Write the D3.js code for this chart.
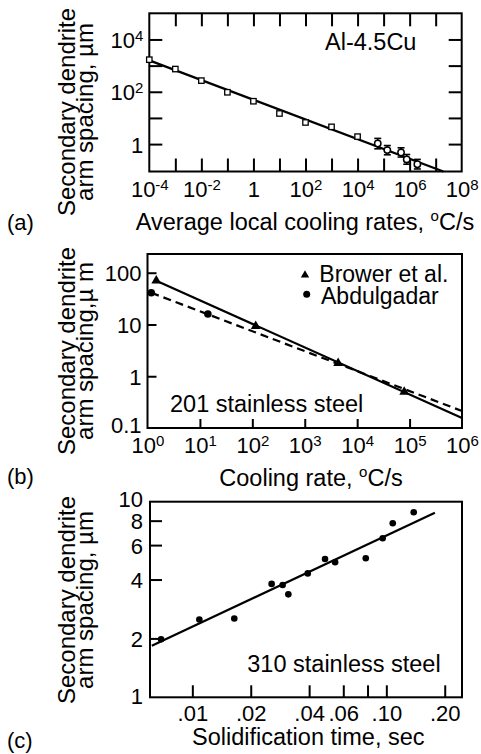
<!DOCTYPE html>
<html><head><meta charset="utf-8">
<script src="https://cdn.jsdelivr.net/npm/d3@7"></script>
<style>
html,body{margin:0;padding:0;background:#fff;}
svg{display:block;}
text{font-family:"Liberation Sans",Arial,Helvetica,sans-serif;fill:#000;}
</style></head><body>
<svg id="chart" width="481" height="754"></svg>
<script>
// ---------- Panel (a): Al-4.5Cu ----------
const aSquareRate = [1e-4, 1e-3, 1e-2, 1e-1, 1, 10, 100, 1e3, 1e4];
const aSquareSpacing = [1686, 739, 267, 95.7, 43.5, 14.8, 6.7, 4.56, 1.93];
const aCircleRate = [5.96e4, 1.39e5, 4.68e5, 7.74e5, 1.98e6];
const aCircleSpacing = [1.06, 0.59, 0.48, 0.26, 0.169];
const aCircleErrLow = [0.66, 0.39, 0.32, 0.17, 0.112];
const aCircleErrHigh = [1.65, 0.88, 0.72, 0.40, 0.26];
const aFitRate = [1e-4, 1.97e7];
const aFitSpacing = [1585, 0.0896];
const aXTicks = [1e-4, 1e-3, 1e-2, 1e-1, 1, 10, 100, 1e3, 1e4, 1e5, 1e6, 1e7, 1e8];
const aXTickLabels = [["10","-4"],["",""],["10","-2"],["",""],["1",""],["",""],["10","2"],["",""],["10","4"],["",""],["10","6"],["",""],["10","8"]];
const aYTicks = [1, 10, 100, 1e3, 1e4];
const aYTickLabels = [["1",""],["",""],["10","2"],["",""],["10","4"]];

// ---------- Panel (b): 201 stainless steel ----------
const bBrowerRate = [1.47, 116, 4335, 79000];
const bBrowerSpacing = [70, 9.3, 1.78, 0.50];
const bAbdulRate = [1.18, 14.2];
const bAbdulSpacing = [41, 15.9];
const bBrowerFitRate = [1.47, 1e6];
const bBrowerFitSpacing = [70, 0.156];
const bAbdulFitRate = [1.18, 1e6];
const bAbdulFitSpacing = [41, 0.213];
const bXTicks = [1, 10, 100, 1e3, 1e4, 1e5, 1e6];
const bXTickLabels = [["10","0"],["10","1"],["10","2"],["10","3"],["10","4"],["10","5"],["10","6"]];
const bYTicks = [0.1, 1, 10, 100];
const bYTickLabels = [["0.1",""],["1",""],["10",""],["100",""]];
const bLegend = ["Brower et al.", "Abdulgadar"];

// ---------- Panel (c): 310 stainless steel ----------
const cTime = [0.0069, 0.01087, 0.01645, 0.02563, 0.02921, 0.03125, 0.03936, 0.04831, 0.05445, 0.07834, 0.09578, 0.1079, 0.1384];
const cSpacing = [1.98, 2.50, 2.53, 3.80, 3.75, 3.36, 4.30, 5.09, 4.90, 5.14, 6.50, 7.76, 8.83];
const cFitTime = [0.00618, 0.178];
const cFitSpacing = [1.835, 8.78];
const cXTicks = [0.01, 0.02, 0.04, 0.06, 0.08, 0.10, 0.20];
const cXTickLabels = [[".01",""],[".02",""],[".04",""],[".06",""],["",""],[".10",""],[".20",""]];
const cYTicks = [1, 2, 4, 6, 8, 10];
const cYTickLabels = [["1",""],["2",""],["4",""],["6",""],["8",""],["10",""]];

const svg = d3.select("#chart");
const FONT = '"Liberation Sans",Arial,Helvetica,sans-serif';
const TICKFONT = 22, SUPFONT = 15, TITLEFONT = 23.5;

function writeLabel(sel, parts, supShift) {
  sel.text(null)
    .style("font-size", TICKFONT + "px").style("font-family", FONT).attr("fill", "#000");
  sel.append("tspan").style("font-size", TICKFONT + "px").text(parts[0]);
  if (parts[1]) sel.append("tspan").style("font-size", SUPFONT + "px").attr("dy", supShift).text(parts[1]);
}

function styleAxis(g) {
  g.attr("font-size", null).attr("font-family", null);
  g.select(".domain").remove();
  g.selectAll(".tick line").attr("stroke", "#000").attr("stroke-width", 2);
}

function makePanel(cfg) {
  const g = svg.append("g");
  const x = d3.scaleLog().domain(cfg.xDomain).range([cfg.left, cfg.right]);
  const y = d3.scaleLog().domain(cfg.yDomain).range([cfg.bottom, cfg.top]);

  const xl = new Map(cfg.xTicks.map((t, i) => [t, cfg.xLabels[i]]));
  const bx = g.append("g").attr("transform", `translate(0,${cfg.bottom})`)
    .call(d3.axisBottom(x).tickValues(cfg.xTicks).tickSizeInner(-cfg.tick).tickSizeOuter(0).tickPadding(cfg.xPad).tickFormat(() => ""));
  styleAxis(bx);
  bx.selectAll(".tick text").each(function(d) { writeLabel(d3.select(this), xl.get(d), -7); });
  bx.selectAll(".tick").filter(d => d === cfg.xDomain[0] || d === cfg.xDomain[1]).select("line").remove();

  const yl = new Map(cfg.yTicks.map((t, i) => [t, cfg.yLabels[i]]));
  const ly = g.append("g").attr("transform", `translate(${cfg.left},0)`)
    .call(d3.axisLeft(y).tickValues(cfg.yTicks).tickSizeInner(-cfg.tick).tickSizeOuter(0).tickPadding(cfg.yPad).tickFormat(() => ""));
  styleAxis(ly);
  ly.selectAll(".tick text")
    .attr("dy", d => d === cfg.yDomain[0] ? cfg.yDyMin : (d === cfg.yDomain[1] ? cfg.yDyMax : "0.36em"))
    .each(function(d) { writeLabel(d3.select(this), yl.get(d), -7); });
  ly.selectAll(".tick").filter(d => d === cfg.yDomain[0] || d === cfg.yDomain[1]).select("line").remove();

  if (cfg.allSides) {
    const tx = g.append("g").attr("transform", `translate(0,${cfg.top})`)
      .call(d3.axisTop(x).tickValues(cfg.xTicks.filter(t => t !== cfg.xDomain[0] && t !== cfg.xDomain[1])).tickSizeInner(-cfg.tick).tickSizeOuter(0).tickFormat(() => ""));
    styleAxis(tx);
    tx.selectAll("text").remove();
    const ry = g.append("g").attr("transform", `translate(${cfg.right},0)`)
      .call(d3.axisRight(y).tickValues(cfg.yTicks).tickSizeInner(-cfg.tick).tickSizeOuter(0).tickFormat(() => ""));
    styleAxis(ry);
    ry.selectAll("text").remove();
  }

  g.append("rect").attr("x", cfg.left).attr("y", cfg.top)
    .attr("width", cfg.right - cfg.left).attr("height", cfg.bottom - cfg.top)
    .attr("fill", "none").attr("stroke", "#000").attr("stroke-width", 2);

  return {g, x, y};
}

function fitLine(p, xs, ys, dash) {
  const pts = xs.map((v, i) => [v, ys[i]]);
  p.g.append("path").datum(pts)
    .attr("d", d3.line().x(d => p.x(d[0])).y(d => p.y(d[1])))
    .attr("fill", "none").attr("stroke", "#000").attr("stroke-width", 2.2)
    .attr("stroke-dasharray", dash || null);
}

function yTitle(cy, line2) {
  const t = svg.append("g").attr("transform", `translate(0,${cy})`);
  t.append("text").attr("transform", `translate(75,0) rotate(-90)`).attr("text-anchor", "middle")
    .style("font-size", "24px").text("Secondary dendrite");
  t.append("text").attr("transform", `translate(93,0) rotate(-90)`).attr("text-anchor", "middle")
    .style("font-size", "24px").text(line2);
}

function xTitle(cx, baseline, before, after) {
  const t = svg.append("text").attr("x", cx).attr("y", baseline).attr("text-anchor", "middle").style("font-size", TITLEFONT + "px");
  t.append("tspan").text(before);
  if (after !== undefined) {
    t.append("tspan").style("font-size", SUPFONT + "px").attr("dy", -9).text("o");
    t.append("tspan").attr("dy", 9).text(after);
  }
}

function note(x, y, txt, size) {
  svg.append("text").attr("x", x).attr("y", y).style("font-size", (size || TITLEFONT) + "px").text(txt);
}

function panelLabel(txt, baseline) {
  svg.append("text").attr("x", 7).attr("y", baseline).style("font-size", "22px").text(txt);
}

// ===== Panel (a) =====
const A = makePanel({
  left: 149.3, right: 461.7, top: 13.3, bottom: 171.5,
  xDomain: [1e-4, 1e8], yDomain: [0.0896, 1e5],
  xTicks: aXTicks, xLabels: aXTickLabels, yTicks: aYTicks, yLabels: aYTickLabels,
  tick: 13, xPad: 9.5, yPad: 6, allSides: true, yDyMin: "0.36em", yDyMax: "0.36em"
});
fitLine(A, aFitRate, aFitSpacing);
aCircleRate.forEach((r, i) => {
  const cx = A.x(r), y1 = A.y(aCircleErrLow[i]), y2 = A.y(aCircleErrHigh[i]);
  A.g.append("line").attr("x1", cx).attr("x2", cx).attr("y1", y1).attr("y2", y2).attr("stroke", "#000").attr("stroke-width", 1.6);
  [y1, y2].forEach(yy => A.g.append("line").attr("x1", cx - 3.5).attr("x2", cx + 3.5).attr("y1", yy).attr("y2", yy).attr("stroke", "#000").attr("stroke-width", 1.6));
});
A.g.selectAll(".sq").data(aSquareRate).join("rect")
  .attr("x", (d) => A.x(d) - 2.7).attr("y", (d, i) => A.y(aSquareSpacing[i]) - 2.7)
  .attr("width", 5.4).attr("height", 5.4).attr("fill", "#fff").attr("stroke", "#000").attr("stroke-width", 1.3);
A.g.selectAll(".ci").data(aCircleRate).join("circle")
  .attr("cx", d => A.x(d)).attr("cy", (d, i) => A.y(aCircleSpacing[i])).attr("r", 3.2)
  .attr("fill", "#fff").attr("stroke", "#000").attr("stroke-width", 1.5);
note(325, 50, "Al-4.5Cu");
yTitle(112, "arm spacing, µm");
xTitle(305, 230, "Average local cooling rates, ", "C/s");
panelLabel("(a)", 230);

// ===== Panel (b) =====
const B = makePanel({
  left: 147.5, right: 462, top: 254, bottom: 428,
  xDomain: [1, 1e6], yDomain: [0.1, 230],
  xTicks: bXTicks, xLabels: bXTickLabels, yTicks: bYTicks, yLabels: bYTickLabels,
  tick: 9, xPad: 9.5, yPad: 6, allSides: false, yDyMin: "0.2em", yDyMax: "0.36em"
});
fitLine(B, bBrowerFitRate, bBrowerFitSpacing);
fitLine(B, bAbdulFitRate, bAbdulFitSpacing, "8,5");
const tri = d3.symbol().type(d3.symbolTriangle).size(42);
B.g.selectAll(".tr").data(bBrowerRate).join("path")
  .attr("d", tri).attr("transform", (d, i) => `translate(${B.x(d)},${B.y(bBrowerSpacing[i])})`).attr("fill", "#000");
B.g.selectAll(".ab").data(bAbdulRate).join("circle")
  .attr("cx", d => B.x(d)).attr("cy", (d, i) => B.y(bAbdulSpacing[i])).attr("r", 3.8).attr("fill", "#000");
svg.append("path").attr("d", d3.symbol().type(d3.symbolTriangle).size(30)).attr("transform", "translate(305,275)").attr("fill", "#000");
note(319.3, 282, bLegend[0], 23);
svg.append("circle").attr("cx", 306.7).attr("cy", 294.3).attr("r", 3.5).attr("fill", "#000");
note(321, 304.3, bLegend[1], 23);
note(170, 412.3, "201 stainless steel");
yTitle(351, "arm spacing,µ m");
xTitle(311, 486, "Cooling rate, ", "C/s");
panelLabel("(b)", 484);

// ===== Panel (c) =====
const C = makePanel({
  left: 150, right: 462, top: 501.7, bottom: 697.3,
  xDomain: [0.00605, 0.2455], yDomain: [1, 10],
  xTicks: cXTicks, xLabels: cXTickLabels, yTicks: cYTicks, yLabels: cYTickLabels,
  tick: 12, xPad: 8.5, yPad: 7, allSides: false, yDyMin: "0.3em", yDyMax: "0.2em"
});
fitLine(C, cFitTime, cFitSpacing);
C.g.selectAll(".pt").data(cTime).join("circle")
  .attr("cx", d => C.x(d)).attr("cy", (d, i) => C.y(cSpacing[i])).attr("r", 3.3).attr("fill", "#000");
note(247.3, 671.7, "310 stainless steel");
yTitle(600, "arm spacing, µm");
xTitle(308.3, 745, "Solidification time, sec");
panelLabel("(c)", 748);
</script>
</body></html>
